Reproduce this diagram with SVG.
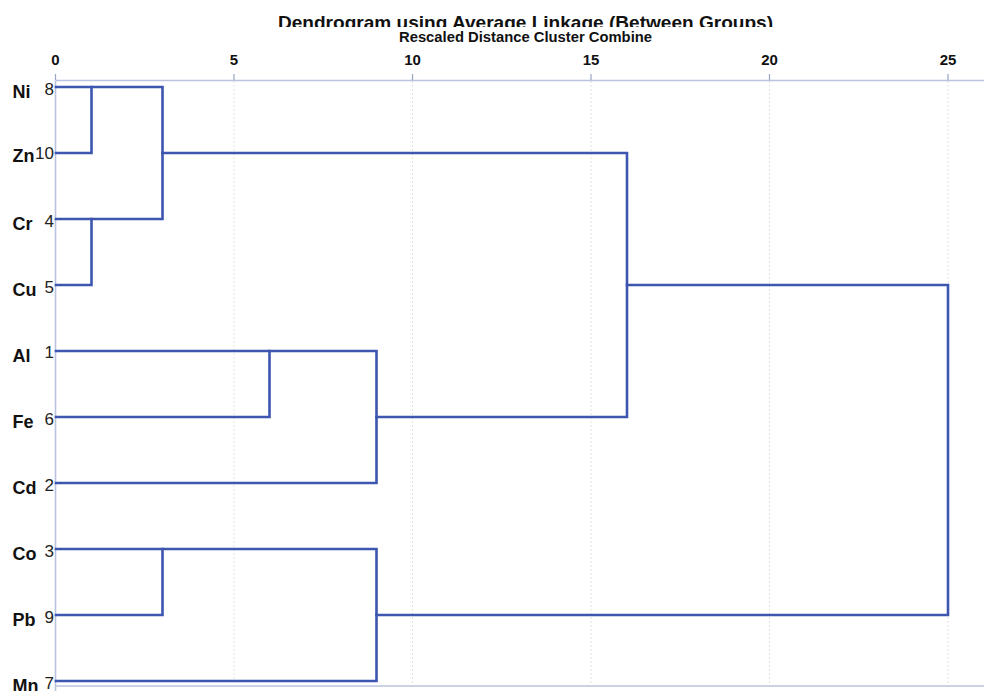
<svg xmlns="http://www.w3.org/2000/svg" width="984" height="691" viewBox="0 0 984 691">
<style>
.title{font-family:"Liberation Sans",Arial,sans-serif;font-weight:bold;fill:#111}
.tick{font-family:"Liberation Sans",Arial,sans-serif;font-weight:bold;font-size:15px;fill:#111;text-anchor:middle}
.lab{font-family:"Liberation Sans",Arial,sans-serif;font-weight:bold;font-size:18px;fill:#111}
.num{font-family:"Liberation Sans",Arial,sans-serif;font-size:17px;fill:#222;text-anchor:end}
.grid{stroke:#e2e2e2;stroke-width:1;stroke-dasharray:2,2;fill:none}
.axis{stroke:#b9c3de;stroke-width:1.6;fill:none}
.tk{stroke:#9aa5c2;stroke-width:1.2}
.link{stroke:#3d56b0;stroke-width:2.6;fill:none;stroke-linejoin:miter;stroke-linecap:square}
</style>
<defs>
<clipPath id="tclip"><rect x="0" y="0" width="984" height="27"/></clipPath>
</defs>
<rect width="984" height="691" fill="#fff"/>
<g id="title">
<text class="title" x="525.5" y="29" font-size="19" text-anchor="middle" textLength="495" lengthAdjust="spacingAndGlyphs" clip-path="url(#tclip)">Dendrogram using Average Linkage (Between Groups)</text>
<text class="title" x="525.5" y="41.5" font-size="14" text-anchor="middle" textLength="253" lengthAdjust="spacingAndGlyphs">Rescaled Distance Cluster Combine</text>
</g>
<g id="grid">
<line class="grid" x1="234" y1="81" x2="234" y2="685"/>
<line class="grid" x1="412.5" y1="81" x2="412.5" y2="685"/>
<line class="grid" x1="591" y1="81" x2="591" y2="685"/>
<line class="grid" x1="769.5" y1="81" x2="769.5" y2="685"/>
<line class="grid" x1="948" y1="81" x2="948" y2="685"/>
</g>
<g id="axis">
<line class="axis" x1="55.5" y1="80.5" x2="984" y2="80.5"/>
<line class="axis" x1="55.5" y1="80.5" x2="55.5" y2="691"/>
<line class="axis" x1="55.5" y1="686" x2="984" y2="686"/>
<line class="tk" x1="55.5" y1="74" x2="55.5" y2="80"/>
<line class="tk" x1="234" y1="74" x2="234" y2="80"/>
<line class="tk" x1="412.5" y1="74" x2="412.5" y2="80"/>
<line class="tk" x1="591" y1="74" x2="591" y2="80"/>
<line class="tk" x1="769.5" y1="74" x2="769.5" y2="80"/>
<line class="tk" x1="948" y1="74" x2="948" y2="80"/>
<text class="tick" x="55.5" y="65">0</text>
<text class="tick" x="234" y="65">5</text>
<text class="tick" x="412.5" y="65">10</text>
<text class="tick" x="591" y="65">15</text>
<text class="tick" x="769.5" y="65">20</text>
<text class="tick" x="948" y="65">25</text>
</g>
<g id="leaf-Ni"><text class="lab" x="12.5" y="98">Ni</text><text class="num" x="54" y="95">8</text></g>
<g id="leaf-Zn"><text class="lab" x="12.5" y="162">Zn</text><text class="num" x="54" y="159">10</text></g>
<g id="leaf-Cr"><text class="lab" x="12.5" y="230">Cr</text><text class="num" x="54" y="227">4</text></g>
<g id="leaf-Cu"><text class="lab" x="12.5" y="296">Cu</text><text class="num" x="54" y="293">5</text></g>
<g id="leaf-Al"><text class="lab" x="12.5" y="362">Al</text><text class="num" x="54" y="358">1</text></g>
<g id="leaf-Fe"><text class="lab" x="12.5" y="428">Fe</text><text class="num" x="54" y="425">6</text></g>
<g id="leaf-Cd"><text class="lab" x="12.5" y="494">Cd</text><text class="num" x="54" y="491">2</text></g>
<g id="leaf-Co"><text class="lab" x="12.5" y="560">Co</text><text class="num" x="54" y="557">3</text></g>
<g id="leaf-Pb"><text class="lab" x="12.5" y="626">Pb</text><text class="num" x="54" y="623">9</text></g>
<g id="leaf-Mn"><text class="lab" x="12.5" y="692">Mn</text><text class="num" x="54" y="689">7</text></g>
<g id="connectors">
<polyline class="link" points="56,153 91.5,153 91.5,87"/>
<polyline class="link" points="56,87 162.5,87 162.5,219 56,219"/>
<polyline class="link" points="56,285 91.5,285 91.5,219"/>
<polyline class="link" points="162.5,153 627,153 627,417 376.5,417"/>
<polyline class="link" points="56,417 269.5,417 269.5,351"/>
<polyline class="link" points="56,351 376.5,351 376.5,483 56,483"/>
<polyline class="link" points="627,285 948,285 948,615 376.5,615"/>
<polyline class="link" points="56,615 162.5,615 162.5,549"/>
<polyline class="link" points="56,549 376.5,549 376.5,681 56,681"/>
</g>
</svg>
